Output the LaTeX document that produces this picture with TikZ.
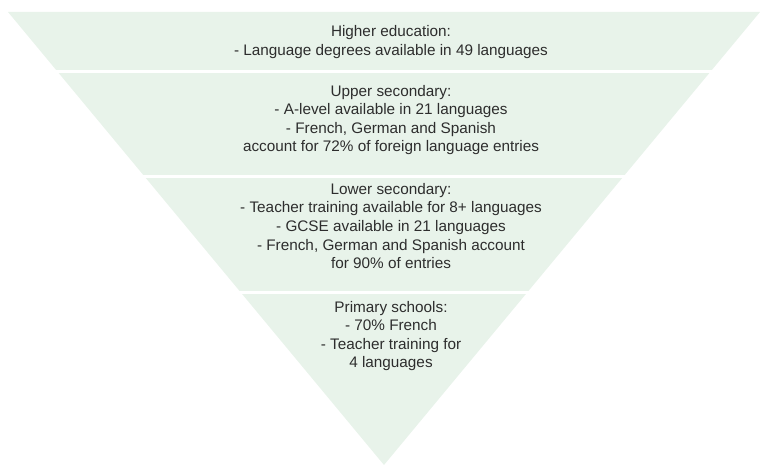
\documentclass[tikz,border=0pt]{standalone}
\usepackage{fontspec}
\setmainfont{Liberation Sans}
\definecolor{bandfill}{RGB}{232,243,234}
\definecolor{txt}{RGB}{45,45,45}
\begin{document}
\begin{tikzpicture}[x=1pt,y=-1pt,
  bandtext/.style={align=center,text=txt,font=\fontsize{15.3}{18.6}\selectfont,inner sep=0pt},
  sepline/.style={draw=white,line width=3pt}]
\useasboundingbox (0,0) rectangle (769,465);
\coordinate (tl) at (8,12);
\coordinate (tr) at (760,12);
\coordinate (apex) at (384,465);
\fill[bandfill] (tl) -- (tr) -- (apex) -- cycle;
\draw[sepline] (0,71.5) -- (769,71.5);
\draw[sepline] (0,177) -- (769,177);
\draw[sepline] (0,293) -- (769,293);
\node[bandtext] (he) at (391,42) {Higher education:\\- Language degrees available in 49 languages};
\node[bandtext] (us) at (391,120) {Upper secondary:\\- A-level available in 21 languages\\- French, German and Spanish\\account for 72\% of foreign language entries};
\node[bandtext] (ls) at (391,226) {Lower secondary:\\- Teacher training available for 8+ languages\\- GCSE available in 21 languages\\- French, German and Spanish account\\for 90\% of entries};
\node[bandtext] (ps) at (391,336) {Primary schools:\\- 70\% French\\- Teacher training for\\4 languages};
\end{tikzpicture}
\end{document}
